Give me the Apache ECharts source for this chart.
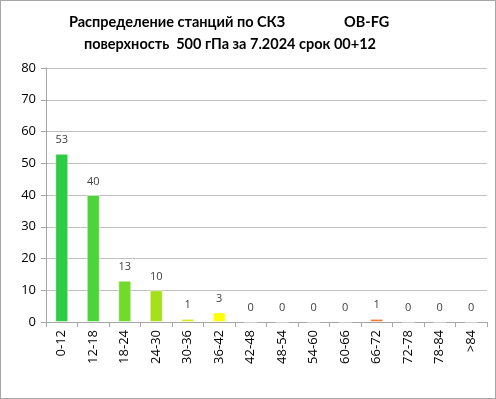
<!DOCTYPE html>
<html><head><meta charset="utf-8">
<script src="https://cdn.jsdelivr.net/npm/echarts@6/dist/echarts.min.js"></script>
<style>html,body{margin:0;padding:0;background:#fff}#c{width:496px;height:399px;box-sizing:border-box;border:1px solid #a6a6a6}</style>
</head><body><div id="c"></div>
<script>
const categories = ['0-12','12-18','18-24','24-30','30-36','36-42','42-48','48-54','54-60','60-66','66-72','72-78','78-84','>84'];
const values = [53,40,13,10,1,3,0,0,0,0,1,0,0,0];
const barColors = ['#2ECC45','#4CD43A','#72DA2A','#A6E01A','#D6EA1A','#FFFF00','#2ECC45','#2ECC45','#2ECC45','#2ECC45','#F07A30','#2ECC45','#2ECC45','#2ECC45'];
const yTicks = [0,10,20,30,40,50,60,70,80];
const titleLine1 = 'Распределение станций по СКЗ';
const titleCode = 'OB-FG';
const titleLine2 = 'поверхность  500 гПа за 7.2024 срок 00+12';

const chart = echarts.init(document.getElementById('c'), null, {renderer:'canvas'});
const font = 'Open Sans, Liberation Sans, sans-serif';
const tfont = 'Lato, Open Sans, sans-serif';
chart.setOption({
  animation:false,
  backgroundColor:'#fff',
  graphic:[
    {type:'text', left:68, top:14, style:{text:titleLine1, font:'bold 14.5px '+tfont, fill:'#000'}},
    {type:'text', left:343, top:14, style:{text:titleCode, font:'bold 14.5px '+tfont, fill:'#000'}},
    {type:'text', left:83, top:36, style:{text:titleLine2, font:'bold 14.5px '+tfont, fill:'#000'}}
  ],
  grid:{left:45, right:8, top:67, bottom:76, containLabel:false},
  xAxis:{type:'category', data:categories,
    axisLine:{lineStyle:{color:'#a6a6a6'}},
    axisTick:{show:true, alignWithLabel:false, lineStyle:{color:'#a6a6a6'}, length:5},
    axisLabel:{rotate:90, color:'#000', fontSize:13, fontFamily:font, margin:8, interval:0}
  },
  yAxis:{type:'value', min:0, max:80, interval:10,
    axisLine:{show:true, lineStyle:{color:'#a6a6a6'}},
    axisTick:{show:true, lineStyle:{color:'#a6a6a6'}, length:5},
    axisLabel:{color:'#000', fontSize:13, fontFamily:font, margin:10,
      formatter:v=>yTicks.includes(v)?String(v):''},
    splitLine:{lineStyle:{color:'#c0c0c0', width:1}}
  },
  series:[{type:'bar', barWidth:13,
    data:values.map((v,i)=>({value:v, itemStyle:{color:barColors[i], borderColor:'rgba(255,255,255,0.5)', borderWidth:1}})),
    label:{show:true, position:'top', distance:8, color:'#404040', fontSize:11, fontFamily:font}
  }]
});
</script></body></html>
